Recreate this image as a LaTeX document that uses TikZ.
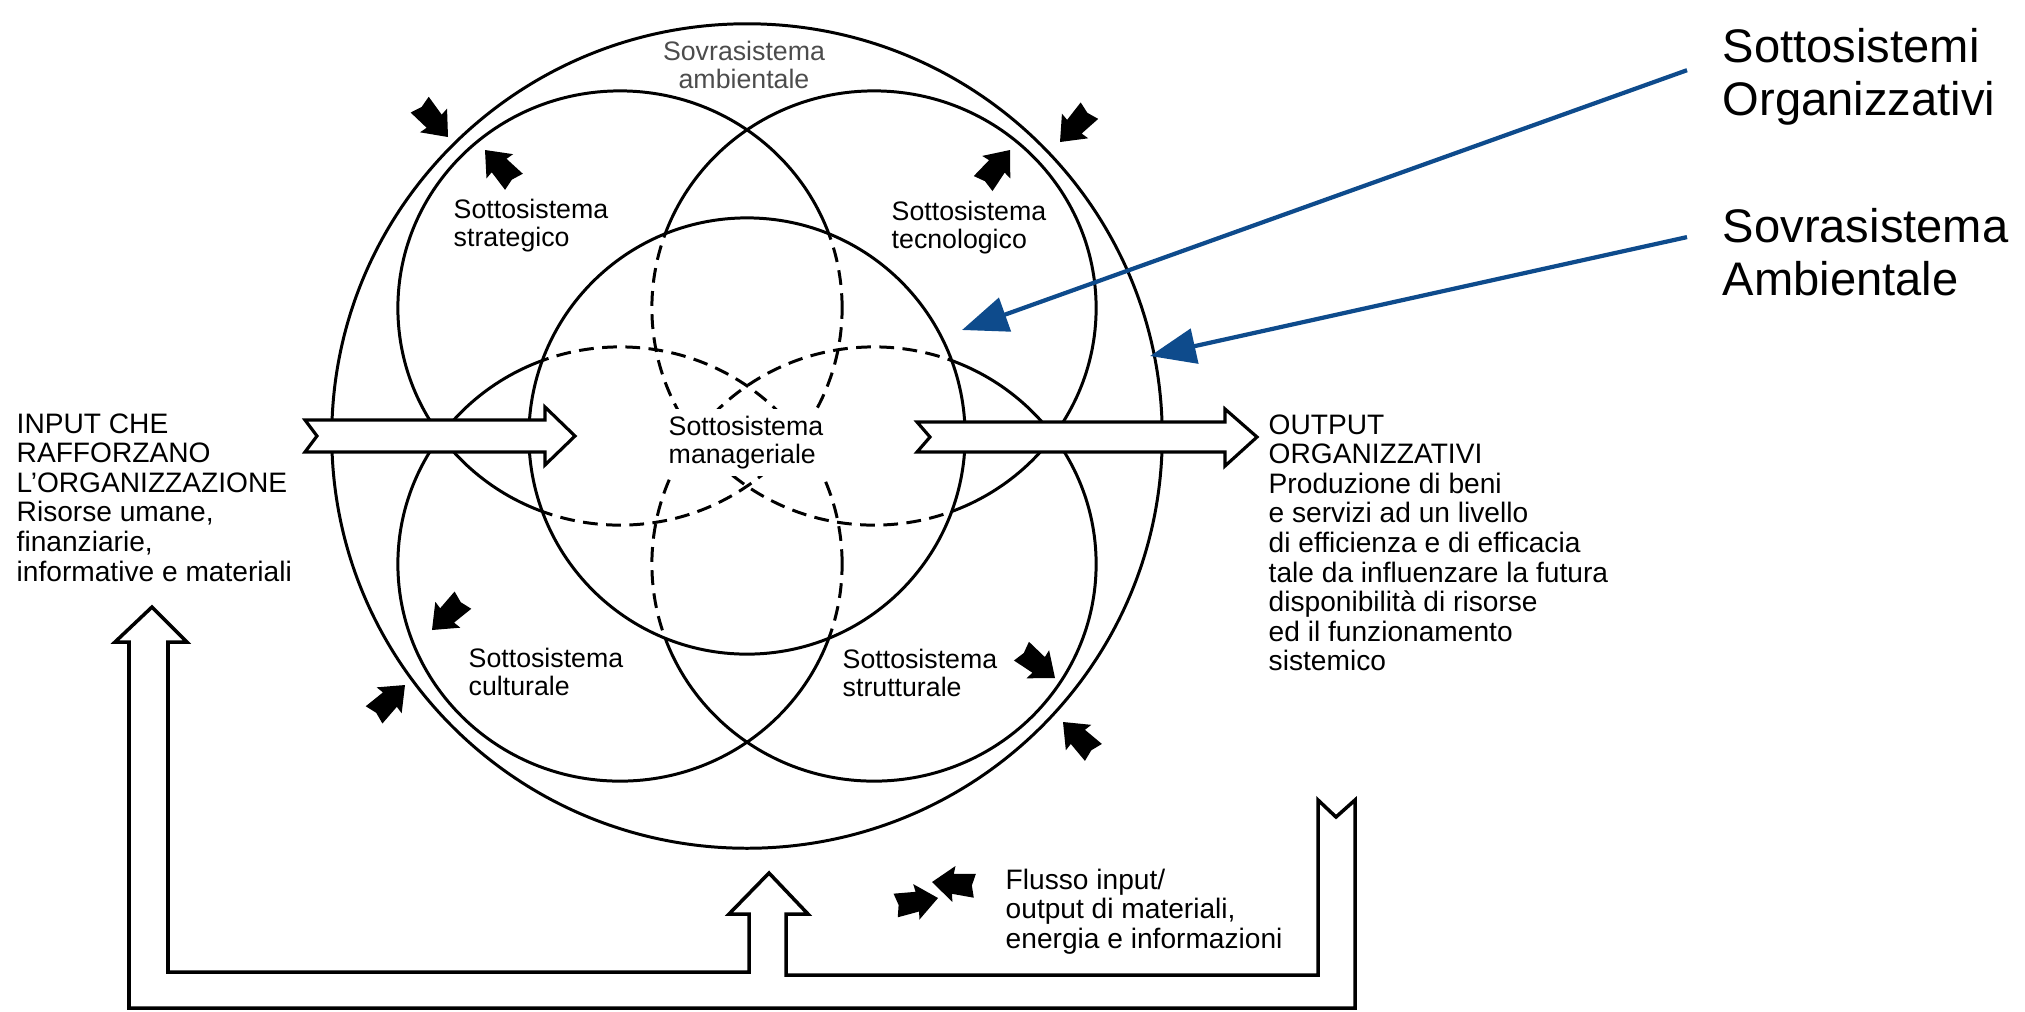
\documentclass[tikz,border=0pt]{standalone}
\usepackage{fontspec}
\setmainfont{Liberation Sans}
\usetikzlibrary{arrows.meta}
\definecolor{linkblue}{RGB}{14,75,140}

\begin{document}
\begin{tikzpicture}[x=0.01cm,y=-0.01cm,
  ring/.style={line width=0.85pt},
  hidden/.style={line width=0.85pt,dash pattern=on 4.2pt off 2.4pt},
  fatarrow/.style={line width=0.9pt,fill=white,line join=miter},
  lbl/.style={inner sep=0pt,anchor=north west,align=left,font=\fontsize{7.6pt}{8.1pt}\selectfont},
  txt/.style={inner sep=0pt,anchor=north west,align=left,font=\fontsize{8pt}{8.4pt}\selectfont},
  big/.style={anchor=north west,inner xsep=10pt,inner ysep=0pt,align=left,font=\fontsize{13.4pt}{15.1pt}\selectfont},
  pointer/.style={linkblue,line width=1.2pt,-{Triangle[length=13pt,width=10pt]}},
  flowtip/.pic={\fill (0,0)--(-22,18)--(-21,10)--(-43,12)--(-40,0)--(-43,-12)--(-21,-10)--(-22,-18)--cycle;}]
\useasboundingbox (0,0) rectangle (2025,1011);

\coordinate (c) at (747,436);
\coordinate (strat) at (620,308);
\coordinate (tecno) at (874,308);
\coordinate (cult) at (620,564);
\coordinate (strut) at (874,564);

\draw[ring] (c) ellipse [x radius=4.15cm,y radius=4.12cm];
\foreach \s in {strat,tecno,cult,strut}
  \draw[ring] (\s) ellipse [x radius=2.22cm,y radius=2.17cm];
\fill[white] (c) circle [radius=2.18cm];
\begin{scope}
  \clip (c) circle [radius=2.18cm];
  \foreach \s in {strat,tecno,cult,strut}
    \draw[hidden] (\s) ellipse [x radius=2.22cm,y radius=2.17cm];
\end{scope}
\draw[ring] (c) circle [radius=2.18cm];

\draw[fatarrow] (305,420)--(545,420)--(545,407)--(575,436)--(545,465)--(545,452)--(305,452)--(317,436)--cycle;
\draw[fatarrow] (917,422)--(1225,422)--(1225,409)--(1257,437)--(1225,466)--(1225,452)--(917,452)--(930,437)--cycle;
\draw[fatarrow,line width=1pt] (152,607)--(187,642)--(168,642)--(168,972)--(749,972)--(749,914)--(729,914)--(769,873)
  --(808,914)--(786,914)--(786,975)--(1318,975)--(1318,800)--(1336,817)--(1355,800)--(1355,1008)--(129,1008)
  --(129,642)--(115,642)--cycle;

\foreach \tx/\ty/\a in {448/137/-48.8, 485/150/132.3, 1060/142/-133.2, 1010/150/51.3,
    432/630/-136, 405/685/44, 1055/678/-38.7, 1063/722/135, 938/898/10, 932/882/175}
  \pic[rotate=\a] at (\tx,\ty) {flowtip};

\node[lbl,anchor=north,align=center,text=black!70] (ambiente) at (744,40) {Sovrasistema\\ambientale};
\node[lbl] (strategico) at (453,198) {Sottosistema\\strategico};
\node[lbl] (tecnologico) at (891,200) {Sottosistema\\tecnologico};
\node[lbl,fill=white,inner sep=2pt] (manageriale) at (661,408) {Sottosistema\\manageriale};
\node[lbl] (culturale) at (468,647) {Sottosistema\\culturale};
\node[lbl] (strutturale) at (842,648) {Sottosistema\\strutturale};

\node[txt] (input) at (16,413) {INPUT CHE\\RAFFORZANO\\L'ORGANIZZAZIONE\\Risorse umane,\\finanziarie,\\informative e materiali};
\node[txt] (output) at (1268,414) {OUTPUT\\ORGANIZZATIVI\\Produzione di beni\\e servizi ad un livello\\di efficienza e di efficacia\\tale da influenzare la futura\\disponibilità di risorse\\ed il funzionamento\\sistemico};
\node[txt] (flusso) at (1005,868) {Flusso input/\\output di materiali,\\energia e informazioni};

\node[big] (organizz) at (1687,28) {Sottosistemi\\Organizzativi};
\node[big] (ambientale) at (1687,208) {Sovrasistema\\Ambientale};
\coordinate (orgtip) at (962,330);
\coordinate (envtip) at (1150,356);
\draw[pointer] ([yshift=2pt]organizz.west) -- (orgtip);
\draw[pointer] ([yshift=4.4pt]ambientale.west) -- (envtip);
\end{tikzpicture}
\end{document}
